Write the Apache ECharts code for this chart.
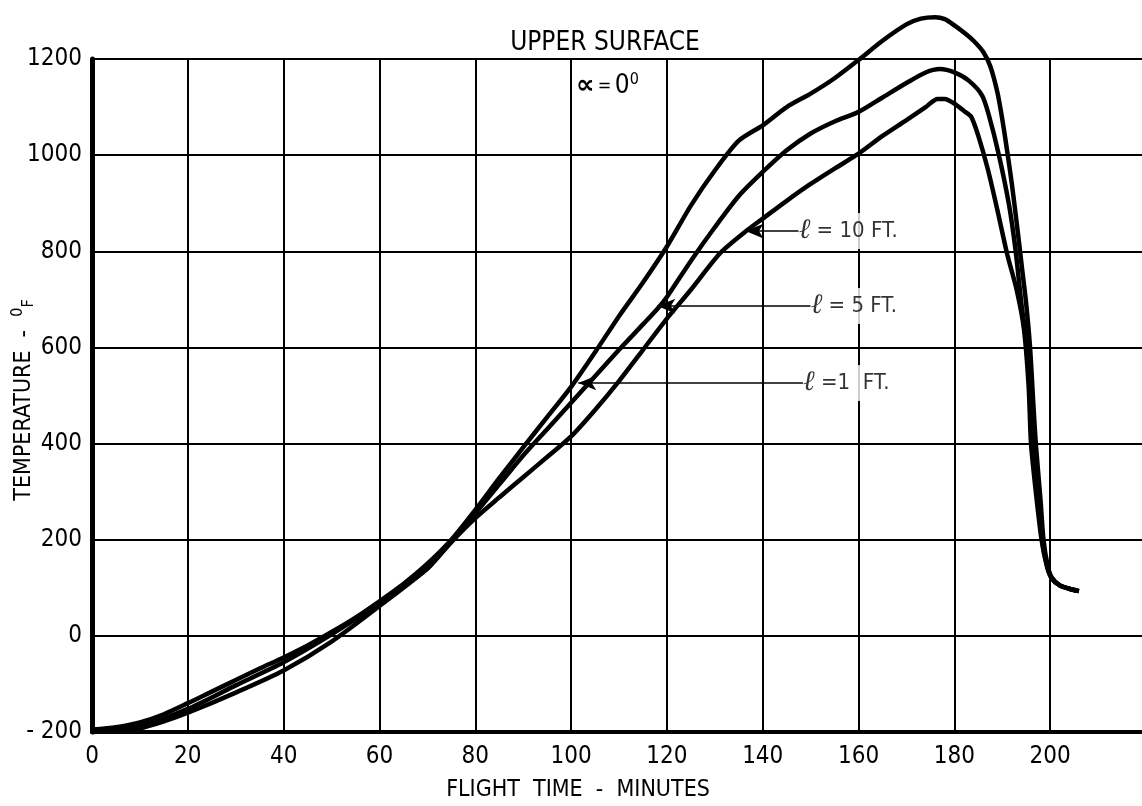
<!DOCTYPE html>
<html>
<head>
<meta charset="utf-8">
<script src="https://cdn.jsdelivr.net/npm/echarts@6/dist/echarts.min.js"></script>
<style>
  html, body { margin: 0; padding: 0; background: #fff; }
  #chart { width: 1142px; height: 806px; }
</style>
</head>
<body>
<div id="chart"></div>
<script>
// flight time (min) and temperature (deg F)
const timeL1 = [0, 5, 10, 15, 20, 25, 30, 35, 40, 45, 50, 55, 60, 65, 70, 75, 80, 85, 90, 95, 100, 105, 110, 115, 120, 125, 130, 135, 140, 145, 150, 155, 160, 165, 170, 173, 176, 178, 180, 182, 184, 186, 187.5, 189, 190, 191, 192, 193, 194, 195, 195.8, 196.5, 197, 198, 198.6, 199.5, 200.3, 202, 204, 206]
const tempL1 = [-195, -190, -180, -163, -140, -116, -92, -68, -45, -20, 8, 38, 72, 108, 150, 200, 262, 328, 392, 455, 518, 590, 665, 735, 810, 895, 968, 1030, 1062, 1100, 1128, 1160, 1198, 1238, 1272, 1284, 1287, 1283, 1270, 1255, 1238, 1215, 1185, 1130, 1075, 1010, 940, 860, 775, 690, 600, 480, 400, 280, 200, 145, 122, 105, 98, 93]

const timeL5 = [0, 10, 20, 30, 40, 50, 60, 70, 75, 80, 85, 90, 95, 100, 105, 110, 115, 118, 120, 125, 130, 135, 140, 145, 150, 155, 160, 165, 170, 174, 177, 180, 183, 185.8, 187.2, 189.3, 191.4, 192.8, 194, 195.2, 196, 196.5, 198.3, 199.4, 200.3, 202, 204, 206]
const tempL5 = [-198, -188, -152, -103, -55, 3, 68, 140, 198, 255, 315, 375, 430, 485, 540, 595, 648, 680, 705, 780, 850, 915, 965, 1010, 1045, 1070, 1090, 1120, 1150, 1172, 1179, 1172, 1155, 1124, 1083, 1000, 897, 800, 690, 600, 450, 400, 200, 145, 120, 105, 98, 93]

const timeL10 = [0, 10, 15, 20, 30, 40, 50, 60, 70, 75, 80, 85, 90, 95, 100, 105, 110, 115, 120, 125, 131, 136.4, 140, 145, 150, 155, 160, 165, 170, 174, 176.5, 178, 180, 182, 183.5, 185, 187, 189, 191, 193, 194.5, 195.5, 196, 197, 198.2, 199.3, 200.3, 202, 204, 206]
const tempL10 = [-200, -192, -178, -160, -118, -72, -12, 62, 140, 195, 245, 288, 330, 372, 415, 470, 530, 595, 660, 720, 795, 841, 868, 905, 940, 972, 1003, 1040, 1073, 1100, 1117, 1117, 1107, 1092, 1080, 1040, 970, 885, 795, 720, 640, 520, 400, 300, 200, 145, 120, 105, 98, 93]

const xTicks = [0, 20, 40, 60, 80, 100, 120, 140, 160, 180, 200]
const yTicks = [-200, 0, 200, 400, 600, 800, 1000, 1200]

// curve callouts: label text, level, where the text starts, where the arrow ends
const calloutText = ['10 FT.', '5 FT.', '1  FT.']
const calloutSign = [' = ', ' = ', ' =']
const calloutTemp = [842, 686, 526]
const calloutFrom = [147.5, 150, 148.4]
const calloutTo = [136.4, 118, 101.5]

const pairs = (xs, ys) => xs.map((x, i) => [x, ys[i]])

const COND = '"DejaVu Sans Condensed", "DejaVu Sans", sans-serif'

const chart = echarts.init(document.getElementById('chart'))

const curve = (name, data) => ({
  name,
  type: 'line',
  data,
  clip: false,
  smooth: 0.25,
  symbol: 'none',
  lineStyle: { color: '#000', width: 4.5 },
  z: 5
})

const option = {
  backgroundColor: '#fff',
  animation: false,
  title: {
    text: 'UPPER SURFACE',
    left: 600,
    top: 25,
    textAlign: 'center',
    textStyle: { fontFamily: COND, fontSize: 26, fontWeight: 'normal', color: '#000' }
  },
  graphic: [
    {
      type: 'text',
      left: 576,
      top: 72,
      style: {
        text: '{a|\u221d} {e|=} {n|0}{s|0}',
        rich: {
          a: { fontFamily: 'DejaVu Sans', fontSize: 26, fontWeight: 'bold', fill: '#000' },
          e: { fontFamily: COND, fontSize: 18, fill: '#000' },
          n: { fontFamily: COND, fontSize: 26, fill: '#000' },
          s: { fontFamily: COND, fontSize: 16, fill: '#000', padding: [0, 0, 12, 0] }
        }
      }
    },
    {
      // x axis title
      type: 'text',
      x: 578,
      y: 790,
      style: {
        text: 'FLIGHT  TIME  -  MINUTES',
        align: 'center',
        verticalAlign: 'middle',
        font: '23px "DejaVu Sans Condensed", "DejaVu Sans", sans-serif',
        fill: '#000'
      }
    },
    {
      // y axis title, reads bottom to top
      type: 'text',
      x: 24,
      y: 400,
      rotation: Math.PI / 2,
      style: {
        text: '{t|TEMPERATURE  -  }{s|0}{f|F}',
        align: 'center',
        verticalAlign: 'middle',
        rich: {
          t: { fontFamily: COND, fontSize: 23, fill: '#000' },
          s: { fontFamily: COND, fontSize: 16, fill: '#000', padding: [0, 0, 12, 0] },
          f: { fontFamily: COND, fontSize: 16, fill: '#000', padding: [10, 0, 0, 0] }
        }
      }
    }
  ],
  grid: {
    left: 92, top: 59, width: 1054, height: 673,
    containLabel: false,
    outerBoundsMode: 'none'
  },
  xAxis: {
    type: 'value',
    min: 0,
    max: 220,
    interval: 20,
    axisLine: { show: true, onZero: false, lineStyle: { color: '#000', width: 4 } },
    axisTick: { show: false },
    axisLabel: {
      color: '#000',
      fontFamily: COND,
      fontSize: 24,
      margin: 13,
      formatter: v => (xTicks.includes(v) ? String(v) : '')
    },
    splitLine: { show: true, lineStyle: { color: '#000', width: 2 } }
  },
  yAxis: {
    type: 'value',
    min: -200,
    max: 1200,
    interval: 200,
    axisLine: { show: true, onZero: false, lineStyle: { color: '#000', width: 5 } },
    axisTick: { show: false },
    axisLabel: {
      color: '#000',
      fontFamily: COND,
      fontSize: 24,
      margin: 10,
      formatter: v => (yTicks.includes(v) ? String(v).replace('-', '- ') : '')
    },
    splitLine: { show: true, lineStyle: { color: '#000', width: 2 } }
  },
  series: [
    curve('\u2113 = 1 FT.', pairs(timeL1, tempL1)),
    curve('\u2113 = 5 FT.', pairs(timeL5, tempL5)),
    curve('\u2113 = 10 FT.', pairs(timeL10, tempL10)),
    {
      // callout leaders
      type: 'line',
      data: [],
      silent: true,
      markLine: {
        silent: true,
        symbol: ['none', 'arrow'],
        symbolSize: [11, 18],
        lineStyle: { color: '#000', width: 1.5, type: 'solid' },
        label: { show: false },
        data: calloutTemp.map((y, i) => [
          { coord: [calloutFrom[i], y] },
          { coord: [calloutTo[i], y] }
        ])
      }
    },
    {
      // callout texts
      type: 'scatter',
      symbolSize: 0,
      silent: true,
      z: 6,
      data: calloutTemp.map((y, i) => [calloutFrom[i], y, i]),
      label: {
        show: true,
        position: 'right',
        distance: 0,
        color: '#000',
        backgroundColor: '#fff',
        padding: [4, 4, 4, 0],
        formatter: p => '{l|\u2113}{t|' + calloutSign[p.value[2]] + calloutText[p.value[2]] + '}',
        rich: {
          l: { fontFamily: 'DejaVu Serif', fontStyle: 'italic', fontSize: 28, color: '#000' },
          t: { fontFamily: COND, fontSize: 22, color: '#000' }
        }
      }
    }
  ]
}

chart.setOption(option)
</script>
</body>
</html>
